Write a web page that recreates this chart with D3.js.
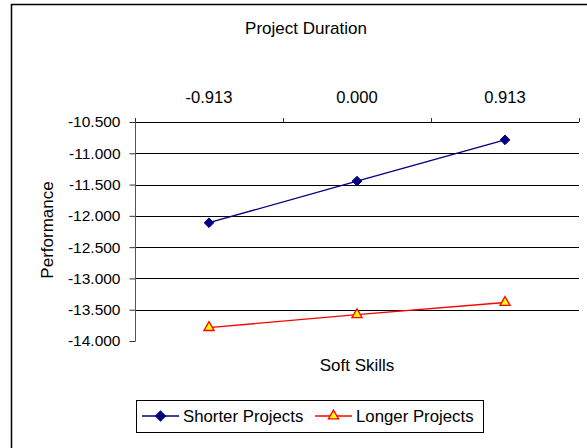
<!DOCTYPE html>
<html>
<head>
<meta charset="utf-8">
<script src="https://cdn.jsdelivr.net/npm/d3@7"></script>
<style>
html,body{margin:0;padding:0;background:#fff;}
svg{display:block;font-family:"Liberation Sans",Arial,sans-serif;}
</style>
</head>
<body>
<svg id="chart" width="587" height="448"></svg>
<script>
const categories = ["-0.913", "0.000", "0.913"];
const shorterProjects = [-12.11, -11.445, -10.785];
const longerProjects = [-13.785, -13.58, -13.385];
const yTicks = [-10.5, -11, -11.5, -12, -12.5, -13, -13.5, -14];
const seriesNames = ["Shorter Projects", "Longer Projects"];

(function () {
const svg = d3.select("#chart");

// outer chart border (cropped at right/bottom)
svg.append("path")
  .attr("d", "M11.5,600 V4.5 H700")
  .attr("fill", "none").attr("stroke", "#000").attr("stroke-width", 1.5);

const pLeft = 135, pRight = 579, pTop = 122, pBottom = 341;
const x = d3.scaleBand().domain(categories).range([pLeft, pRight]).padding(0);
const y = d3.scaleLinear().domain([-14, -10.5]).range([pBottom, pTop]);
const cx = c => x(c) + x.bandwidth() / 2;

// gridlines (not at the bottom value)
svg.append("g").selectAll("line")
  .data(yTicks.filter(v => v !== -14))
  .join("line")
  .attr("x1", pLeft).attr("x2", pRight)
  .attr("y1", d => Math.round(y(d)) + 0.5).attr("y2", d => Math.round(y(d)) + 0.5)
  .attr("stroke", "#000").attr("stroke-width", 1);

// left value axis
const yAxis = d3.axisLeft(y).tickValues(yTicks).tickSize(6).tickPadding(9)
  .tickFormat(d => d.toFixed(3));
const gy = svg.append("g").attr("transform", `translate(${pLeft + 0.5},0)`).call(yAxis);
gy.select(".domain").remove();
gy.selectAll(".tick line").attr("stroke", "#333");
gy.selectAll("text").attr("font-size", "15.5px").attr("fill", "#000")
  .attr("font-family", "Liberation Sans, Arial, sans-serif");
svg.append("line").attr("x1", pLeft + 0.5).attr("x2", pLeft + 0.5)
  .attr("y1", pTop - 4).attr("y2", pBottom).attr("stroke", "#555");

// top category axis: ticks at band boundaries
const bounds = categories.map(c => x(c)).concat([pRight]);
svg.append("g").selectAll("line").data(bounds).join("line")
  .attr("x1", d => Math.round(d) + 0.5).attr("x2", d => Math.round(d) + 0.5)
  .attr("y1", pTop - 4).attr("y2", pTop).attr("stroke", "#333");
svg.append("g").selectAll("text").data(categories).join("text")
  .attr("x", d => cx(d)).attr("y", 103)
  .attr("text-anchor", "middle").attr("font-size", "16.6px").attr("fill", "#000")
  .text(d => d);

// lines
const line = d3.line().x((d, i) => cx(categories[i])).y(d => y(d));
svg.append("path").datum(shorterProjects).attr("d", line)
  .attr("fill", "none").attr("stroke", "#000080").attr("stroke-width", 1.3);
svg.append("path").datum(longerProjects).attr("d", line)
  .attr("fill", "none").attr("stroke", "#ff0000").attr("stroke-width", 1.3);

// markers
const diamond = d3.symbol().type(d3.symbolDiamond2).size(60);
const triangle = d3.symbol().type(d3.symbolTriangle).size(45);
svg.append("g").selectAll("path").data(shorterProjects).join("path")
  .attr("d", diamond)
  .attr("transform", (d, i) => `translate(${cx(categories[i])},${y(d)})`)
  .attr("fill", "#000080").attr("stroke", "#000080");
svg.append("g").selectAll("path").data(longerProjects).join("path")
  .attr("d", triangle)
  .attr("transform", (d, i) => `translate(${cx(categories[i])},${y(d)})`)
  .attr("fill", "#ffff00").attr("stroke", "#ff0000").attr("stroke-width", 1.3);

// titles
svg.append("text").attr("x", 306).attr("y", 34).attr("text-anchor", "middle")
  .attr("font-size", "17px").text("Project Duration");
svg.append("text").attr("x", 357).attr("y", 371).attr("text-anchor", "middle")
  .attr("font-size", "17px").text("Soft Skills");
svg.append("text").attr("transform", "translate(53,230) rotate(-90)")
  .attr("text-anchor", "middle").attr("font-size", "17px").text("Performance");

// legend
const lg = svg.append("g");
lg.append("rect").attr("x", 136.5).attr("y", 400.5).attr("width", 347).attr("height", 32)
  .attr("fill", "#fff").attr("stroke", "#000").attr("stroke-width", 1);
const ly = 416;
const items = [
  {name: seriesNames[0], x1: 142, x2: 179, color: "#000080", sym: diamond, fill: "#000080", tx: 183},
  {name: seriesNames[1], x1: 315, x2: 352, color: "#ff0000", sym: triangle, fill: "#ffff00", tx: 356}
];
items.forEach(it => {
  lg.append("line").attr("x1", it.x1).attr("x2", it.x2).attr("y1", ly).attr("y2", ly)
    .attr("stroke", it.color).attr("stroke-width", 1.3);
  lg.append("path").attr("d", it.sym).attr("transform", `translate(${(it.x1 + it.x2) / 2},${ly})`)
    .attr("fill", it.fill).attr("stroke", it.color).attr("stroke-width", 1.3);
  lg.append("text").attr("x", it.tx).attr("y", ly + 6).attr("font-size", "16.8px").text(it.name);
});
})();
</script>
</body>
</html>
